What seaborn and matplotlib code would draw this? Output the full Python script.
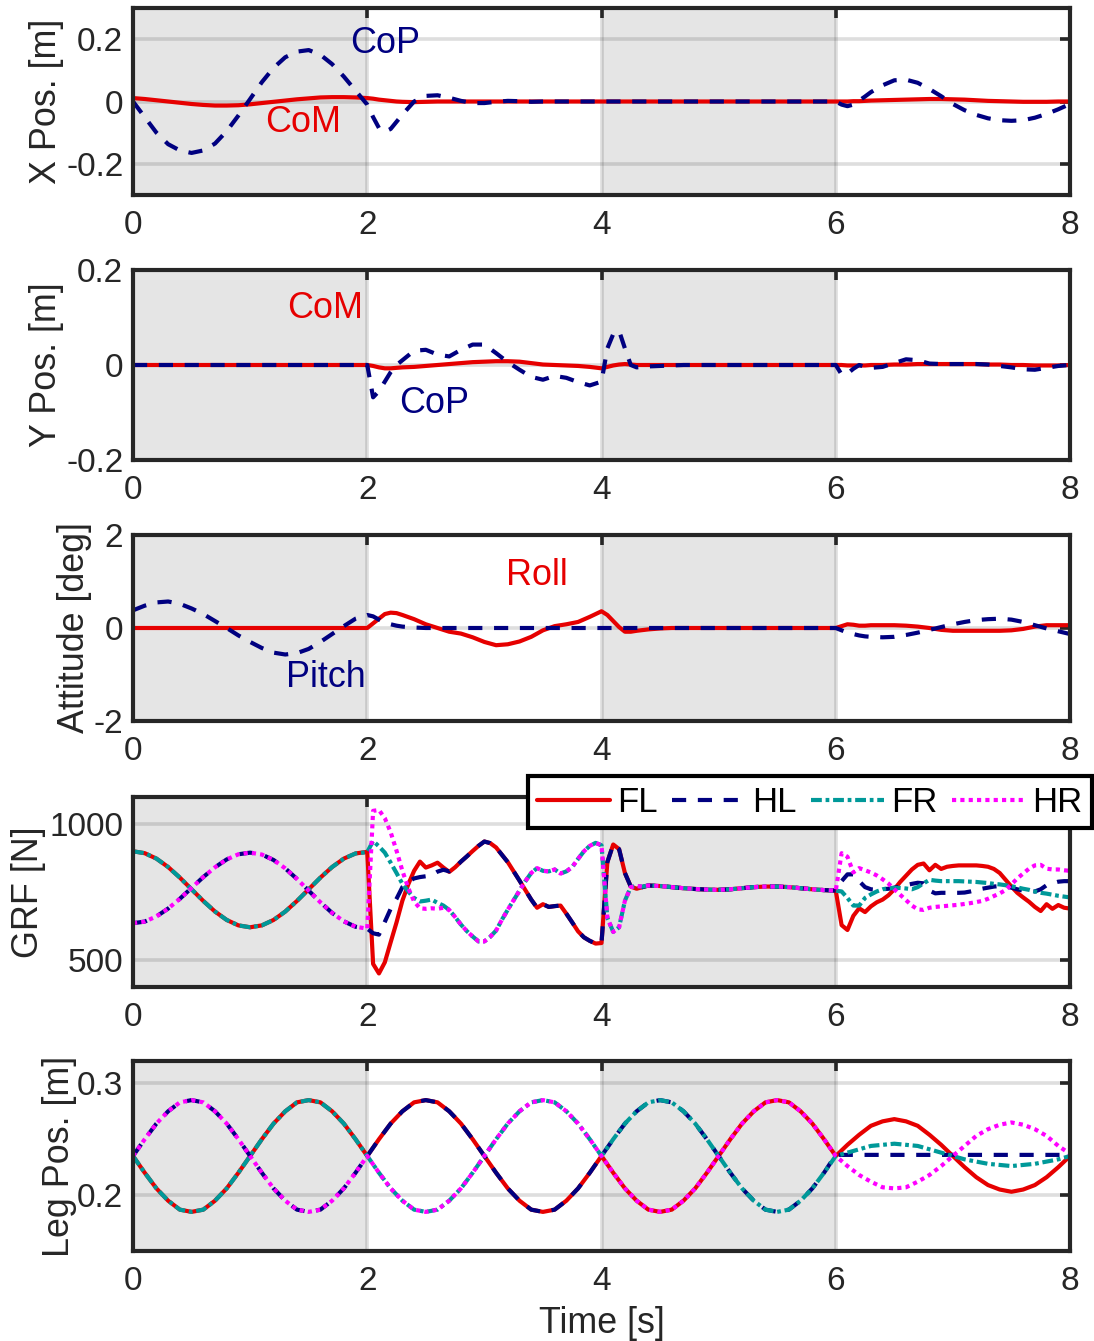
import numpy as np
import pandas as pd
import matplotlib
matplotlib.use("Agg")
import matplotlib.pyplot as plt
import seaborn as sns

# ---------------------------------------------------------------- sampling grids
# body-state panels: 0.1 s steps, 0.05 s around the gait switches at 2, 4 and 6 s
T_MAIN = np.round(np.concatenate([
    np.arange(0.0, 1.95, 0.1), np.arange(2.0, 2.31, 0.05),
    np.arange(2.4, 3.95, 0.1), np.arange(4.0, 4.31, 0.05),
    np.arange(4.4, 5.95, 0.1), np.arange(6.0, 6.31, 0.05),
    np.arange(6.4, 8.05, 0.1)]), 2)
# ground reaction forces: finer steps where the forces change quickly
T_GRF = np.round(np.concatenate([
    np.arange(0.0, 2.05, 0.1), np.arange(2.05, 4.42, 0.05),
    np.arange(4.5, 6.05, 0.1), np.arange(6.05, 8.02, 0.05)]), 2)
T_LEG = np.round(np.arange(0.0, 8.05, 0.1), 2)

# ---------------------------------------------------------------- X position [m]
COP_X = [0.0, -0.05, -0.10, -0.137, -0.157, -0.165, -0.157, -0.135, -0.095, -0.045,
         0.008, 0.062, 0.108, 0.142, 0.160, 0.165, 0.150, 0.120, 0.080, 0.035,
         -0.010, -0.050, -0.085, -0.097, -0.088, -0.065, -0.042,
         0.000, 0.018, 0.020, 0.012, 0.002, -0.005, -0.005, -0.001, 0.002, 0.001,
         -0.001, 0.0, 0.0, 0.0, 0.0, 0.0,
         0.0, 0.0, 0.0, 0.0, 0.0, 0.0, 0.0,
         0.0, 0.0, 0.0, 0.0, 0.0, 0.0, 0.0, 0.0, 0.0, 0.0, 0.0, 0.0, 0.0, 0.0, 0.0, 0.0,
         0.0, -0.010, -0.015, -0.010, 0.003, 0.016, 0.030,
         0.052, 0.068, 0.070, 0.060, 0.040, 0.017, -0.008, -0.028, -0.043, -0.054,
         -0.060, -0.062, -0.060, -0.052, -0.040, -0.025, -0.008]
COM_X = [0.011, 0.008, 0.004, 0.0, -0.004, -0.008, -0.011, -0.013, -0.013, -0.012,
         -0.009, -0.005, -0.001, 0.003, 0.007, 0.010, 0.013, 0.014, 0.014, 0.013,
         0.011, 0.009, 0.006, 0.004, 0.002, 0.0, -0.001,
         -0.002, -0.001, 0.0, 0.0, 0.0, 0.0, 0.0, 0.0, 0.0, 0.0, 0.0, 0.0, 0.0, 0.0, 0.0, 0.0,
         0.0, 0.0, 0.0, 0.0, 0.0, 0.0, 0.0,
         0.0, 0.0, 0.0, 0.0, 0.0, 0.0, 0.0, 0.0, 0.0, 0.0, 0.0, 0.0, 0.0, 0.0, 0.0, 0.0,
         0.0, 0.0, 0.0, 0.001, 0.001, 0.002, 0.003,
         0.004, 0.005, 0.006, 0.007, 0.008, 0.008, 0.007, 0.006, 0.004, 0.002,
         0.001, 0.0, -0.001, -0.001, -0.001, 0.0, 0.0]

# ---------------------------------------------------------------- Y position [m]
COP_Y = [0.0, 0.0, 0.0, 0.0, 0.0, 0.0, 0.0, 0.0, 0.0, 0.0,
         0.0, 0.0, 0.0, 0.0, 0.0, 0.0, 0.0, 0.0, 0.0, 0.0,
         0.0, -0.068, -0.055, -0.035, -0.015, 0.0, 0.010,
         0.030, 0.032, 0.022, 0.018, 0.032, 0.043, 0.043, 0.025, 0.006, -0.010,
         -0.025, -0.031, -0.023, -0.027, -0.036, -0.043,
         -0.035, 0.035, 0.065, 0.072, 0.035, 0.0, -0.005,
         -0.003, -0.002, -0.001, 0.0, 0.0, 0.0, 0.0, 0.0, 0.0, 0.0, 0.0, 0.0, 0.0, 0.0, 0.0, 0.0,
         0.0, -0.020, -0.018, -0.008, 0.0, -0.004, -0.006,
         -0.004, 0.004, 0.012, 0.010, 0.003, 0.002, 0.002, 0.002, 0.002, 0.001,
         -0.002, -0.005, -0.009, -0.010, -0.006, -0.002, 0.0]
COM_Y = [0.0, 0.0, 0.0, 0.0, 0.0, 0.0, 0.0, 0.0, 0.0, 0.0,
         0.0, 0.0, 0.0, 0.0, 0.0, 0.0, 0.0, 0.0, 0.0, 0.0,
         0.0, -0.002, -0.005, -0.007, -0.007, -0.006, -0.005,
         -0.004, -0.002, 0.0, 0.002, 0.004, 0.006, 0.007, 0.008, 0.008, 0.007,
         0.004, 0.001, 0.0, -0.001, -0.002, -0.004,
         -0.007, -0.004, -0.001, 0.001, 0.002, 0.001, 0.0,
         0.0, 0.0, 0.0, 0.0, 0.0, 0.0, 0.0, 0.0, 0.0, 0.0, 0.0, 0.0, 0.0, 0.0, 0.0, 0.0,
         0.0, 0.0, -0.001, -0.001, -0.001, -0.001, 0.0,
         0.0, 0.001, 0.001, 0.002, 0.002, 0.002, 0.002, 0.002, 0.002, 0.001,
         0.001, 0.0, 0.0, -0.001, -0.001, -0.001, 0.0]

# ---------------------------------------------------------------- attitude [deg]
PITCH = [0.38, 0.48, 0.55, 0.57, 0.52, 0.42, 0.30, 0.15, 0.0, -0.16,
         -0.30, -0.43, -0.53, -0.57, -0.54, -0.45, -0.30, -0.13, 0.04, 0.20,
         0.28, 0.25, 0.18, 0.12, 0.08, 0.05, 0.03,
         0.01, 0.0, 0.0, 0.0, 0.0, 0.0, 0.0, 0.0, 0.0, 0.0, 0.0, 0.0, 0.0, 0.0, 0.0, 0.0,
         0.0, 0.0, 0.0, 0.0, 0.0, 0.0, 0.0,
         0.0, 0.0, 0.0, 0.0, 0.0, 0.0, 0.0, 0.0, 0.0, 0.0, 0.0, 0.0, 0.0, 0.0, 0.0, 0.0,
         0.0, -0.05, -0.10, -0.13, -0.16, -0.18, -0.19,
         -0.20, -0.19, -0.15, -0.10, -0.04, 0.02, 0.08, 0.13, 0.17, 0.19,
         0.20, 0.18, 0.13, 0.06, -0.01, -0.07, -0.13]
ROLL = [0.0, 0.0, 0.0, 0.0, 0.0, 0.0, 0.0, 0.0, 0.0, 0.0,
        0.0, 0.0, 0.0, 0.0, 0.0, 0.0, 0.0, 0.0, 0.0, 0.0,
        0.0, 0.10, 0.20, 0.30, 0.33, 0.32, 0.28,
        0.19, 0.08, 0.0, -0.08, -0.12, -0.20, -0.30, -0.37, -0.35, -0.29,
        -0.19, -0.05, 0.04, 0.08, 0.13, 0.24,
        0.36, 0.28, 0.15, 0.02, -0.08, -0.08, -0.06,
        -0.03, -0.01, 0.0, 0.0, 0.0, 0.0, 0.0, 0.0, 0.0, 0.0, 0.0, 0.0, 0.0, 0.0, 0.0, 0.0,
        0.0, 0.04, 0.08, 0.07, 0.05, 0.05, 0.06,
        0.06, 0.06, 0.05, 0.03, 0.0, -0.04, -0.06, -0.06, -0.06, -0.06,
        -0.06, -0.05, -0.02, 0.03, 0.06, 0.06, 0.06]

# ---------------------------------------------------------------- ground reaction force [N]
GRF_FL = [900, 893, 873, 842, 803, 760, 717, 678, 647, 627, 620,
          627, 647, 678, 717, 760, 803, 842, 873, 892, 898,
          485, 450, 491, 565, 638, 718, 778, 828, 862, 840,
          848, 858, 840, 824, 841, 862, 881, 901, 920, 936,
          930, 914, 887, 860, 826, 792, 757, 722, 692, 705,
          695, 698, 700, 670, 638, 605, 583, 570, 560, 562,
          860, 925, 908, 820, 770, 762, 768, 774,
          772, 768, 764, 761, 759, 758, 760, 764, 768, 770, 770, 768, 764, 760, 757, 755,
          628, 610, 662, 690, 676, 697, 712, 722, 738, 760,
          787, 810, 833, 850, 855, 830, 850, 835, 843, 846,
          848, 848, 848, 848, 846, 843, 835, 820, 795, 770,
          747, 730, 714, 695, 680, 705, 688, 702, 692, 689]
GRF_HL = [635, 641, 660, 689, 725, 765, 805, 841, 870, 889, 895,
          888, 868, 837, 798, 755, 712, 673, 642, 622, 615,
          598, 593, 640, 688, 725, 768, 788, 800, 805, 808,
          812, 825, 832, 826, 841, 862, 881, 901, 920, 936,
          930, 914, 887, 860, 826, 792, 757, 722, 692, 705,
          695, 698, 700, 670, 638, 605, 583, 570, 560, 562,
          860, 925, 908, 820, 770, 762, 768, 774,
          772, 768, 764, 761, 759, 758, 760, 764, 768, 770, 770, 768, 764, 760, 757, 755,
          790, 815, 815, 790, 768, 760, 758, 760, 762, 766,
          770, 775, 780, 784, 782, 755, 745, 747, 747, 747,
          747, 748, 752, 757, 762, 766, 770, 772, 770, 766,
          760, 755, 752, 752, 760, 775, 782, 788, 790, 790]
GRF_FR = [900, 893, 873, 842, 803, 760, 717, 678, 647, 627, 620,
          627, 647, 678, 717, 760, 803, 842, 873, 892, 897,
          938, 918, 895, 858, 820, 780, 752, 728, 715, 718,
          722, 710, 700, 684, 658, 630, 606, 586, 568, 568,
          585, 608, 648, 685, 720, 755, 790, 820, 838, 828,
          826, 833, 818, 826, 842, 872, 900, 920, 931, 922,
          655, 603, 620, 718, 768, 772, 770, 774,
          772, 768, 764, 761, 759, 758, 760, 764, 768, 770, 770, 768, 764, 760, 757, 755,
          752, 728, 700, 700, 728, 741, 752, 760, 764, 765,
          765, 763, 760, 768, 782, 795, 792, 790, 790, 790,
          790, 789, 788, 787, 785, 783, 780, 778, 775, 771,
          767, 762, 758, 752, 747, 744, 740, 736, 733, 730]
GRF_HR = [635, 641, 660, 689, 725, 765, 805, 841, 870, 889, 895,
          888, 868, 837, 798, 755, 712, 673, 642, 622, 615,
          1049, 1052, 1022, 970, 902, 828, 765, 715, 690, 688,
          690, 688, 692, 684, 658, 630, 606, 586, 568, 568,
          585, 608, 648, 685, 720, 755, 790, 820, 838, 828,
          826, 833, 818, 826, 842, 872, 900, 920, 931, 922,
          655, 603, 620, 718, 768, 772, 770, 774,
          772, 768, 764, 761, 759, 758, 760, 764, 768, 770, 770, 768, 764, 760, 757, 755,
          893, 880, 822, 838, 830, 822, 811, 797, 781, 760,
          740, 720, 700, 686, 684, 692, 695, 697, 699, 701,
          703, 706, 709, 713, 717, 725, 735, 745, 757, 778,
          800, 818, 836, 848, 850, 836, 833, 833, 830, 828]

# ---------------------------------------------------------------- leg position [m]
LEG_FL = [0.235, 0.220, 0.206, 0.195, 0.187, 0.185, 0.187, 0.195, 0.206, 0.220,
          0.235, 0.250, 0.264, 0.275, 0.283, 0.285, 0.283, 0.275, 0.264, 0.250,
          0.235, 0.250, 0.264, 0.275, 0.283, 0.285, 0.283, 0.275, 0.264, 0.250,
          0.235, 0.220, 0.206, 0.195, 0.187, 0.185, 0.187, 0.195, 0.206, 0.220,
          0.235, 0.220, 0.206, 0.195, 0.187, 0.185, 0.187, 0.195, 0.206, 0.220,
          0.235, 0.250, 0.264, 0.275, 0.283, 0.285, 0.283, 0.275, 0.264, 0.250,
          0.235, 0.245, 0.254, 0.262, 0.266, 0.268, 0.266, 0.262, 0.254, 0.245,
          0.235, 0.225, 0.216, 0.209, 0.205, 0.203, 0.205, 0.209, 0.216, 0.225,
          0.235]
LEG_HL = [0.235, 0.250, 0.264, 0.275, 0.283, 0.285, 0.283, 0.275, 0.264, 0.250,
          0.235, 0.220, 0.206, 0.195, 0.187, 0.185, 0.187, 0.195, 0.206, 0.220,
          0.235, 0.250, 0.264, 0.275, 0.283, 0.285, 0.283, 0.275, 0.264, 0.250,
          0.235, 0.220, 0.206, 0.195, 0.187, 0.185, 0.187, 0.195, 0.206, 0.220,
          0.235, 0.250, 0.264, 0.275, 0.283, 0.285, 0.283, 0.275, 0.264, 0.250,
          0.235, 0.220, 0.206, 0.195, 0.187, 0.185, 0.187, 0.195, 0.206, 0.220,
          0.236, 0.236, 0.236, 0.236, 0.236, 0.236, 0.236, 0.236, 0.236, 0.236,
          0.236, 0.236, 0.236, 0.236, 0.236, 0.236, 0.236, 0.236, 0.236, 0.236,
          0.236]
LEG_FR = [0.235, 0.220, 0.206, 0.195, 0.187, 0.185, 0.187, 0.195, 0.206, 0.220,
          0.235, 0.250, 0.264, 0.275, 0.283, 0.285, 0.283, 0.275, 0.264, 0.250,
          0.235, 0.220, 0.206, 0.195, 0.187, 0.185, 0.187, 0.195, 0.206, 0.220,
          0.235, 0.250, 0.264, 0.275, 0.283, 0.285, 0.283, 0.275, 0.264, 0.250,
          0.235, 0.250, 0.264, 0.275, 0.283, 0.285, 0.283, 0.275, 0.264, 0.250,
          0.235, 0.220, 0.206, 0.195, 0.187, 0.185, 0.187, 0.195, 0.206, 0.220,
          0.235, 0.238, 0.241, 0.244, 0.245, 0.246, 0.245, 0.244, 0.241, 0.238,
          0.235, 0.232, 0.230, 0.228, 0.227, 0.226, 0.227, 0.228, 0.230, 0.232,
          0.235]
LEG_HR = [0.235, 0.250, 0.264, 0.275, 0.283, 0.285, 0.283, 0.275, 0.264, 0.250,
          0.235, 0.220, 0.206, 0.195, 0.187, 0.185, 0.187, 0.195, 0.206, 0.220,
          0.235, 0.220, 0.206, 0.195, 0.187, 0.185, 0.187, 0.195, 0.206, 0.220,
          0.235, 0.250, 0.264, 0.275, 0.283, 0.285, 0.283, 0.275, 0.264, 0.250,
          0.235, 0.220, 0.206, 0.195, 0.187, 0.185, 0.187, 0.195, 0.206, 0.220,
          0.235, 0.250, 0.264, 0.275, 0.283, 0.285, 0.283, 0.275, 0.264, 0.250,
          0.235, 0.226, 0.218, 0.212, 0.207, 0.206, 0.207, 0.212, 0.218, 0.226,
          0.235, 0.244, 0.253, 0.259, 0.263, 0.265, 0.263, 0.259, 0.253, 0.244,
          0.237]

LEGS = ["FL", "HL", "FR", "HR"]
STANCE_BANDS = [(0, 2), (4, 6)]
X_TICKS = [0, 2, 4, 6, 8]

# ---------------------------------------------------------------- styling
RED, NAVY, TEAL, MAGENTA = "#e60000", "#000080", "#009999", "#ff00ff"
INK = "#262626"
LW = 3.0
DASHES = {"solid": "", "dash": (3.4, 2.8), "dashdot": (2.6, 0.9, 0.9, 0.9), "dot": (1.0, 1.0)}
LEG_COLORS = {"FL": RED, "HL": NAVY, "FR": TEAL, "HR": MAGENTA}
LEG_DASHES = {"FL": DASHES["solid"], "HL": DASHES["dash"], "FR": DASHES["dashdot"], "HR": DASHES["dot"]}

sns.set_style("white")
plt.rcParams["font.family"] = ["Liberation Sans", "DejaVu Sans"]
plt.rcParams["axes.unicode_minus"] = False

TICK_FS = 24
LABEL_FS = 25.8


def long_frame(t, series):
    names = list(series.keys())
    return pd.DataFrame({
        "t": np.tile(t, len(names)),
        "v": np.concatenate([np.asarray(series[n], dtype=float) for n in names]),
        "name": np.repeat(names, len(t)),
    })


def draw(ax, t, series, colors, dashes):
    df = long_frame(t, series)
    order = list(series.keys())
    sns.lineplot(data=df, x="t", y="v", hue="name", style="name",
                 hue_order=order, style_order=order,
                 palette=colors, dashes=dashes, linewidth=LW,
                 estimator=None, sort=False, legend=False, ax=ax)


def frame(ax, ylim, yticks, ylabels, ylabel, ylabel_x):
    for a, b in STANCE_BANDS:
        ax.axvspan(a, b, color="#e5e5e5", lw=0, zorder=0)
    ax.set_axisbelow(True)
    ax.grid(True, color=INK, alpha=0.15, linewidth=2.6)
    ax.set_xlim(0, 8)
    ax.set_ylim(*ylim)
    ax.set_xticks(X_TICKS)
    ax.set_xticklabels([str(v) for v in X_TICKS])
    ax.set_yticks(yticks)
    ax.set_yticklabels(ylabels)
    ax.tick_params(direction="in", length=7, width=2.6, color=INK,
                   top=True, right=True, labelsize=TICK_FS, labelcolor=INK)
    ax.tick_params(axis="x", pad=11)
    ax.tick_params(axis="y", pad=7)
    for s in ax.spines.values():
        s.set_visible(True)
        s.set_linewidth(3)
        s.set_color(INK)
    ax.set_xlabel("")
    ax.set_ylabel(ylabel, fontsize=LABEL_FS, color=INK, va="center")
    ax.yaxis.set_label_coords(ylabel_x, 0.5)


fig = plt.figure(figsize=(10.94, 13.41), dpi=100)
L, W = 133 / 1094, 937 / 1094


def add_panel(top_px, bottom_px):
    return fig.add_axes([L, 1 - bottom_px / 1341, W, (bottom_px - top_px) / 1341])


ax1 = add_panel(8, 195)
ax2 = add_panel(270, 460)
ax3 = add_panel(535, 721)
ax4 = add_panel(797, 987)
ax5 = add_panel(1061, 1251)

body_colors = {"CoM": RED, "CoP": NAVY}
body_dashes = {"CoM": DASHES["solid"], "CoP": DASHES["dash"]}

# X position of centre of mass and centre of pressure
draw(ax1, T_MAIN, {"CoM": COM_X, "CoP": COP_X}, body_colors, body_dashes)
frame(ax1, (-0.3, 0.3), [-0.2, 0, 0.2], ["-0.2", "0", "0.2"], "X Pos. [m]", -0.092)
ax1.text(2.15, 0.185, "CoP", color=NAVY, fontsize=LABEL_FS, ha="center", va="center")
ax1.text(1.45, -0.068, "CoM", color=RED, fontsize=LABEL_FS, ha="center", va="center")

# Y position
draw(ax2, T_MAIN, {"CoM": COM_Y, "CoP": COP_Y}, body_colors, body_dashes)
frame(ax2, (-0.2, 0.2), [-0.2, 0, 0.2], ["-0.2", "0", "0.2"], "Y Pos. [m]", -0.092)
ax2.text(1.64, 0.120, "CoM", color=RED, fontsize=LABEL_FS, ha="center", va="center")
ax2.text(2.57, -0.082, "CoP", color=NAVY, fontsize=LABEL_FS, ha="center", va="center")

# body attitude
draw(ax3, T_MAIN, {"Roll": ROLL, "Pitch": PITCH},
     {"Roll": RED, "Pitch": NAVY}, {"Roll": DASHES["solid"], "Pitch": DASHES["dash"]})
frame(ax3, (-2, 2), [-2, 0, 2], ["-2", "0", "2"], "Attitude [deg]", -0.062)
ax3.text(3.45, 1.12, "Roll", color=RED, fontsize=LABEL_FS, ha="center", va="center")
ax3.text(1.65, -1.07, "Pitch", color=NAVY, fontsize=LABEL_FS, ha="center", va="center")

# ground reaction forces
draw(ax4, T_GRF, dict(zip(LEGS, [GRF_FL, GRF_HL, GRF_FR, GRF_HR])), LEG_COLORS, LEG_DASHES)
frame(ax4, (400, 1100), [500, 1000], ["500", "1000"], "GRF [N]", -0.111)

# leg positions
draw(ax5, T_LEG, dict(zip(LEGS, [LEG_FL, LEG_HL, LEG_FR, LEG_HR])), LEG_COLORS, LEG_DASHES)
frame(ax5, (0.15, 0.32), [0.2, 0.3], ["0.2", "0.3"], "Leg Pos. [m]", -0.078)
ax5.set_xlabel("Time [s]", fontsize=LABEL_FS, color=INK, va="center")
ax5.xaxis.set_label_coords(0.5, -0.38)

leg = fig.legend(handles=ax4.get_lines()[:4], labels=LEGS, ncol=4,
                 loc="upper right", bbox_to_anchor=(1092 / 1094, 1 - 776 / 1341),
                 fontsize=25, frameon=True, fancybox=False, framealpha=1,
                 edgecolor="black", handlelength=2.1, handletextpad=0.2,
                 columnspacing=0.42, borderpad=0.28, borderaxespad=0.0)
leg.get_frame().set_linewidth(3)
for txt in leg.get_texts():
    txt.set_color("black")

fig.savefig("out.png", dpi=100)
